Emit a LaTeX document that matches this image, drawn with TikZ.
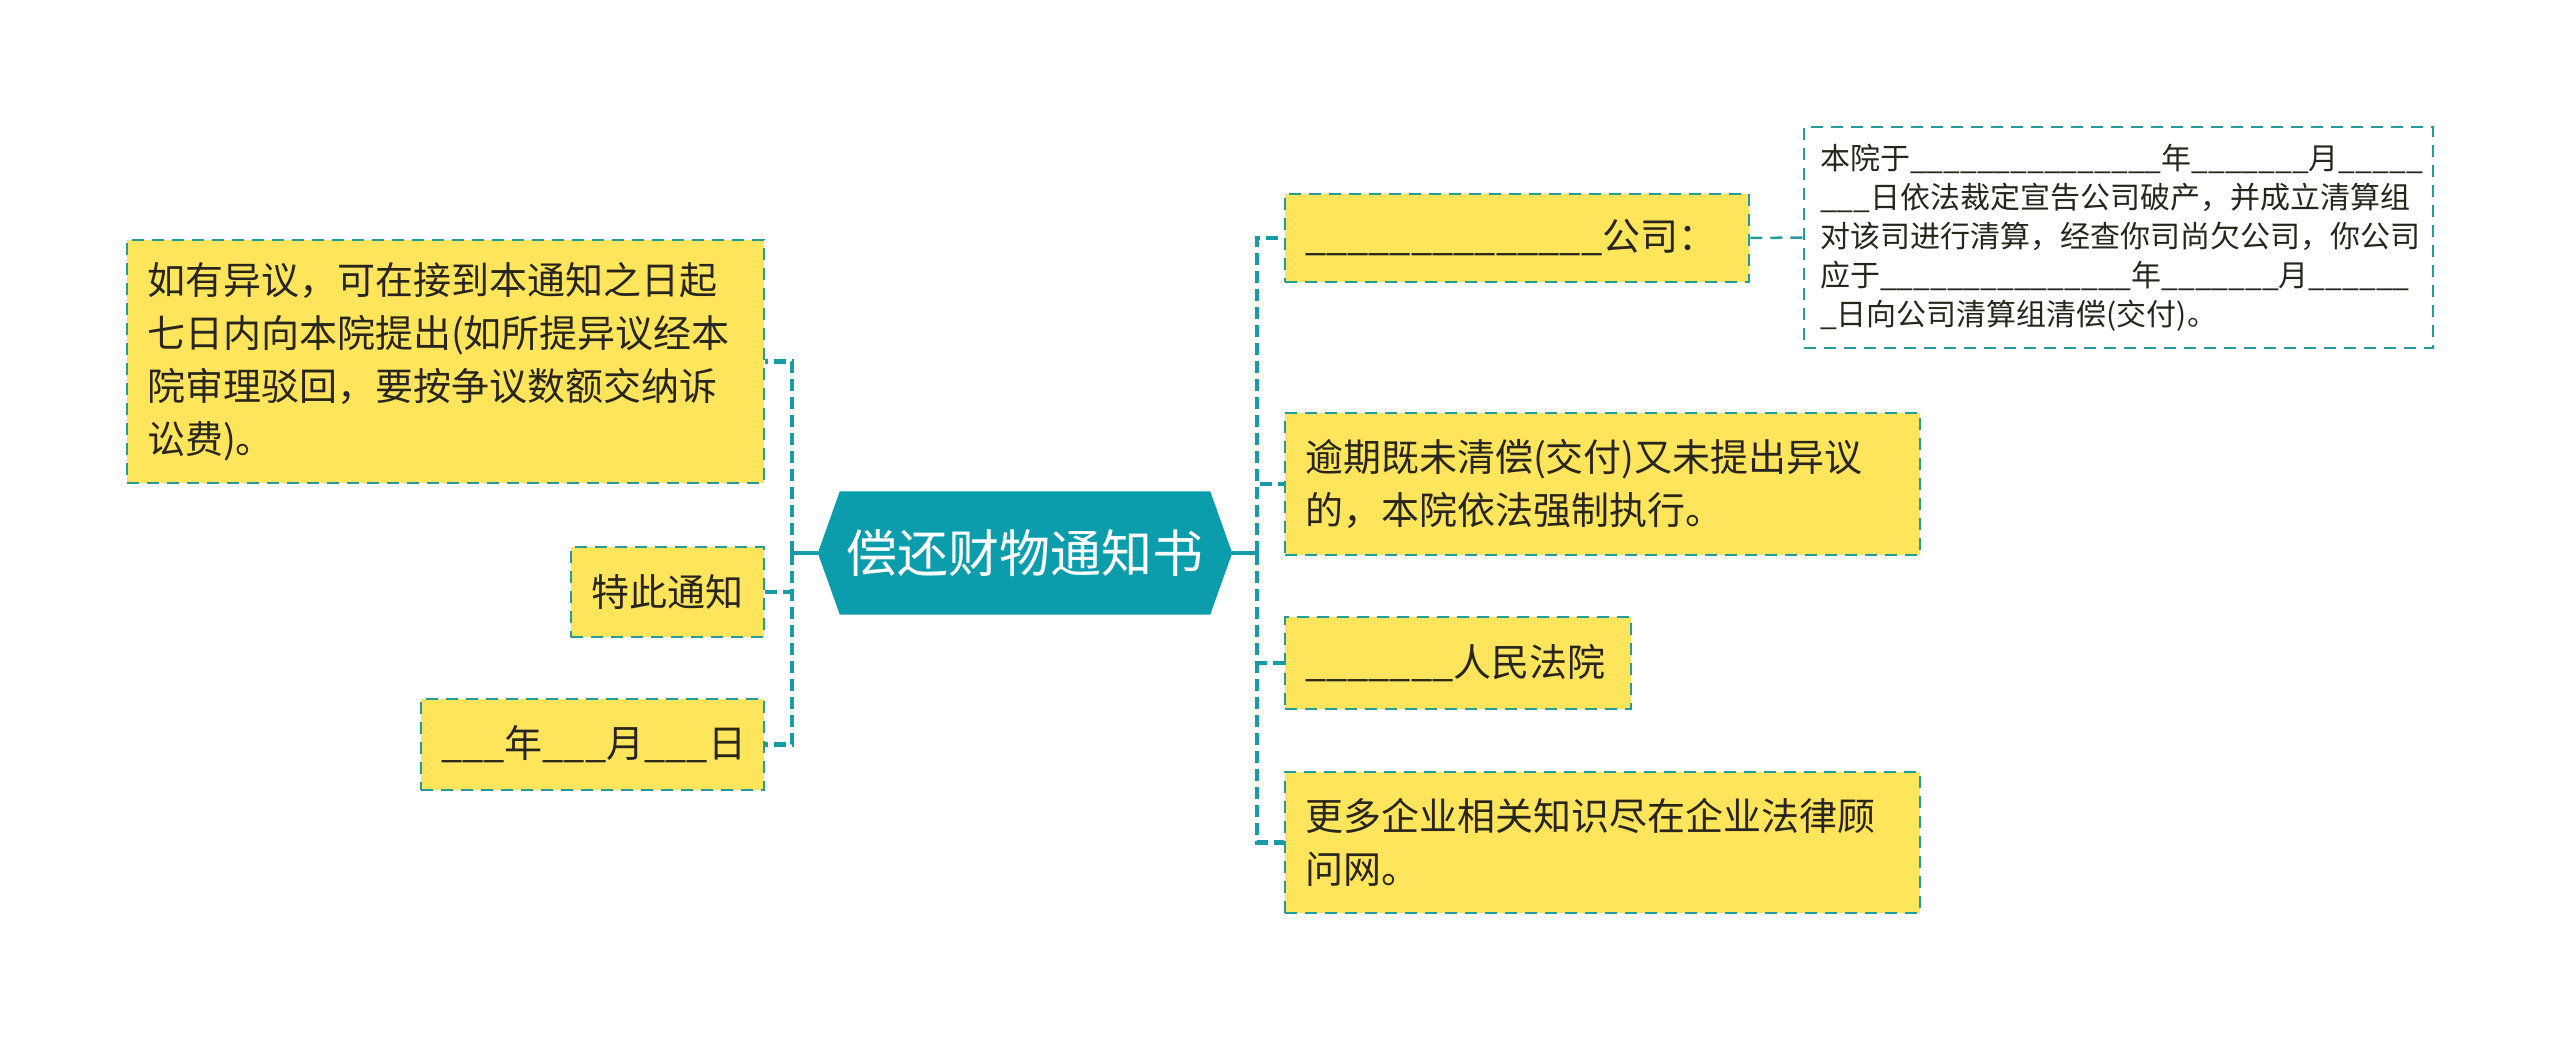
\documentclass[tikz,border=0pt]{standalone}
\usepackage{fontspec}
\setmainfont{Noto Sans CJK SC}
\usetikzlibrary{backgrounds,calc}
\definecolor{hexteal}{RGB}{12,157,172}
\definecolor{lineteal}{RGB}{22,155,168}
\definecolor{boxline}{RGB}{38,155,155}
\definecolor{boxfill}{RGB}{255,229,92}
\definecolor{txt}{RGB}{40,38,28}
\makeatletter
\newcommand\blanks[1]{\@tempcnta=#1\relax\loop\ifnum\@tempcnta>0 \_\advance\@tempcnta-1 \repeat}
\makeatother
\begin{document}
\begin{tikzpicture}[x=1pt,y=-1pt,
  leaf/.style={draw=boxline, fill=boxfill, line width=2.5pt, dash pattern=on 12pt off 8pt,
    text=txt, font=\fontsize{38}{53}\selectfont, align=left, inner xsep=20pt, inner ysep=0pt, anchor=center},
  note/.style={draw=boxline, fill=white, line width=2.5pt, dash pattern=on 12pt off 8pt,
    text=txt, font=\fontsize{30}{39}\selectfont, align=left, inner xsep=16pt, inner ysep=0pt, anchor=center},
  trunk/.style={draw=lineteal, line width=4pt},
  branch/.style={draw=lineteal, line width=4.5pt, dash pattern=on 12pt off 6pt},
  link/.style={draw=boxline, line width=2.5pt, dash pattern=on 12pt off 8pt}]
\useasboundingbox (0,0) rectangle (2560,1042);

% root
\node[text=white, font=\fontsize{51}{60}\selectfont, minimum width=370pt, minimum height=123pt, inner sep=0pt]
  (root) at (1025,553) {偿还财物通知书};
\coordinate (rootL) at ([xshift=-22pt]root.west);
\coordinate (rootR) at ([xshift=22pt]root.east);
\begin{scope}[on background layer]
  \fill[hexteal] (root.north west) -- (root.north east) -- (rootR) -- (root.south east)
     -- (root.south west) -- (rootL) -- cycle;
\end{scope}

% left leaves
\node[leaf, text width=597pt, minimum height=243pt] (L1) at (445.5,361.5)
  {如有异议，可在接到本通知之日起\\七日内向本院提出(如所提异议经本\\院审理驳回，要按争议数额交纳诉\\讼费)。};
\node[leaf, text width=153pt, minimum height=90pt] (L2) at (667.5,592) {特此通知};
\node[leaf, text width=303pt, minimum height=91pt] (L3) at (592.5,744.5) {\blanks{3}年\blanks{3}月\blanks{3}日};

% right leaves
\node[leaf, text width=424pt, minimum height=88pt] (R1) at (1517,238) {\blanks{14}公司：};
\node[leaf, text width=595pt, minimum height=142pt] (R2) at (1602.5,484)
  {逾期既未清偿(交付)又未提出异议\\的，本院依法强制执行。};
\node[leaf, text width=306pt, minimum height=92pt] (R3) at (1458,663) {\blanks{7}人民法院};
\node[leaf, text width=595pt, minimum height=141pt] (R4) at (1602.5,842.5)
  {更多企业相关知识尽在企业法律顾\\问网。};

% far-right note
\node[note, text width=597pt, minimum height=221pt] (FR) at (2118.5,237.5)
  {本院于\blanks{15}年\blanks{7}月\blanks{5}\\\blanks{3}日依法裁定宣告公司破产，并成立清算组\\对该司进行清算，经查你司尚欠公司，你公司\\应于\blanks{15}年\blanks{7}月\blanks{6}\\\_日向公司清算组清偿(交付)。};

% connectors
\coordinate (lj) at (792,553);
\coordinate (rj) at (1257,553);
\draw[trunk] (rootL) -- (lj);
\draw[trunk] (rootR) -- (rj);
\draw[branch] (lj) |- (L1.east);
\draw[branch] (lj) |- (L3.east);
\draw[branch] (lj) |- (L2.east);
\draw[branch] (rj) |- (R1.west);
\draw[branch] (rj) |- (R2.west);
\draw[branch] (rj) |- (R4.west);
\draw[branch] (rj) |- (R3.west);
\draw[link] (R1.east) -- (FR.west);
\end{tikzpicture}
\end{document}
